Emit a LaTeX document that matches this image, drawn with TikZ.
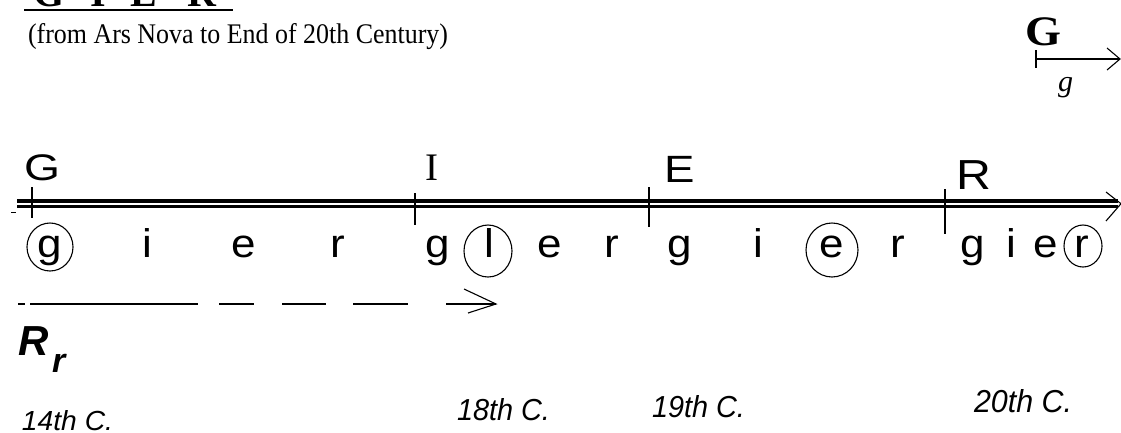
\documentclass[tikz,border=0pt]{standalone}
\usepackage{fontspec}
\usepackage{graphicx}
\newfontfamily\labsans{Liberation Sans}
\newfontfamily\labserif{Liberation Serif}
\newcommand\fsz[1]{\fontsize{#1pt}{#1pt}\selectfont}
\begin{document}
\begin{tikzpicture}[x=1pt,y=-1pt,
  lab/.style={inner sep=0pt, outer sep=0pt, anchor=base},
  labw/.style={inner sep=0pt, outer sep=0pt, anchor=base west},
  axline/.style={line width=3.5pt},
  thinline/.style={line width=1.4pt},
  tickline/.style={line width=1.6pt},
  circline/.style={line width=1.1pt},
  headline/.style={line width=1.1pt}]
\useasboundingbox (0,0) rectangle (1121,432);
\fill[white] (0,0) rectangle (1121,432);

% title (cut at top edge, as in the reference)
\node[labw] (tG) at (33,6) {\labserif\bfseries\fsz{40}G};
\node[labw] (tI) at (90,6) {\labserif\bfseries\fsz{40}I};
\node[labw] (tE) at (130,6) {\labserif\bfseries\fsz{40}E};
\node[labw] (tR) at (187,6) {\labserif\bfseries\fsz{40}R};
\coordinate (ul1) at (24,9.5);
\coordinate (ul2) at (233,9.5);
\draw[line width=2pt] (ul1) -- (ul2);

% subtitle
\node[labw] (sub) at (28,43) {\resizebox{420pt}{20pt}{\labserif (from Ars Nova to End of 20th Century)}};

% top-right legend
\node[labw] (bigG) at (1025,45) {\scalebox{1.1}[1]{\labserif\bfseries\fsz{42}G}};
\node[labw] (smallg) at (1058,91) {\labserif\itshape\fsz{30}g};
\coordinate (lt1) at (1036,50);
\coordinate (lt2) at (1036,68);
\coordinate (la1) at (1036,59);
\coordinate (la2) at (1120,59);
\draw[tickline] (lt1) -- (lt2);
\draw[thinline] (la1) -- (la2);
\draw[headline] (1107,48) -- (la2) -- (1107,70);

% main axis (double line)
\coordinate (axA) at (17,201);
\coordinate (axB) at (1118,201);
\coordinate (axC) at (17,206.5);
\coordinate (axD) at (1118,206.5);
\draw[axline] (axA) -- (axB);
\draw[axline] (axC) -- (axD);
\coordinate (axtip) at (1121,203.7);
\draw[headline] (1106,192) -- (axtip) -- (1106,221);
\draw[line width=1pt] (11,212) -- (16,212);

% ticks
\draw[tickline] (32,187) -- (32,218);
\draw[tickline] (415,193) -- (415,225);
\draw[tickline] (649,187) -- (649,227);
\draw[tickline] (945,189) -- (945,234);

% capital labels
\node[labw] (cG) at (24,180) {\scalebox{1.25}[1]{\labsans\fsz{37}G}};
\node[labw] (cI) at (425,180) {\labserif\fsz{39}I};
\node[labw] (cE) at (664,182) {\scalebox{1.2}[1]{\labsans\fsz{38}E}};
\node[labw] (cR) at (956,189) {\scalebox{1.15}[1]{\labsans\fsz{42}R}};

% lower letters
\foreach \nm/\xx/\ch in {a1/50/g, a2/147/i, a3/244/e, a4/338/r,
                         b1/438/g, b2/489/l, b3/550/e, b4/612/r,
                         c1/680/g, c2/758/i, c3/832/e, c4/898/r,
                         d1/973/g, d2/1011/i, d3/1046/e, d4/1082/r}
  \node[lab] (\nm) at (\xx,257) {\scalebox{1.1}[1]{\labsans\fsz{40}\ch}};

% circles
\draw[circline] (50,247) ellipse [x radius=23, y radius=24];
\draw[circline] (488,251) ellipse [x radius=24, y radius=26];
\draw[circline] (832,250) ellipse [x radius=26, y radius=27];
\draw[circline] (1083,246) ellipse [x radius=19, y radius=21];

% dashed progression line
\draw[thinline] (18,304) -- (25,304);
\draw[thinline] (30,304) -- (198,304);
\draw[thinline] (219,304) -- (254,304);
\draw[thinline] (282,304) -- (326,304);
\draw[thinline] (353,304) -- (408,304);
\coordinate (dA) at (446,304);
\coordinate (dB) at (496,304);
\draw[thinline] (dA) -- (dB);
\draw[headline] (464,289) -- (dB) -- (468,313);

% R_r
\node[labw] (Rbig) at (18,355) {\labsans\bfseries\itshape\fsz{42}R};
\node[labw] (rsub) at (52,372) {\labsans\bfseries\itshape\fsz{34}r};

% centuries
\node[labw] (c14) at (22,430) {\resizebox{91pt}{20pt}{\labsans\itshape 14th C.}};
\node[labw] (c18) at (457,420) {\resizebox{93pt}{22pt}{\labsans\itshape 18th C.}};
\node[labw] (c19) at (652,417) {\resizebox{93pt}{22pt}{\labsans\itshape 19th C.}};
\node[labw] (c20) at (974,412) {\resizebox{98pt}{23pt}{\labsans\itshape 20th C.}};
\end{tikzpicture}
\end{document}
